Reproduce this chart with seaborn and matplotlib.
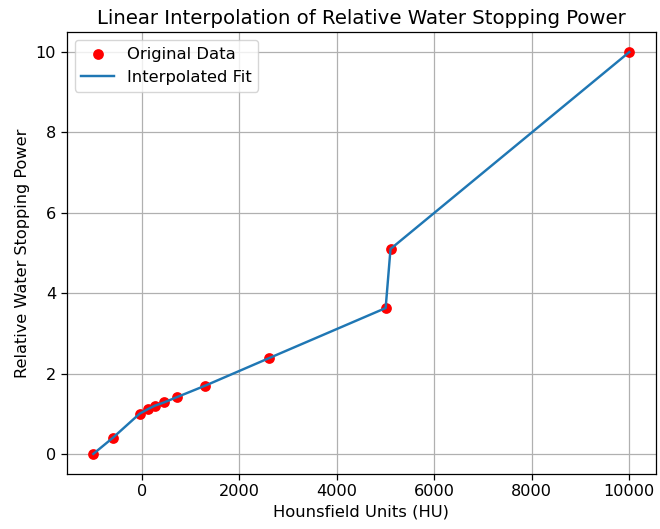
import matplotlib
matplotlib.use("Agg")
import matplotlib.pyplot as plt
import seaborn as sns
import pandas as pd

hu = [-1000, -600, -50, 130, 265, 450, 710, 1300, 2600, 5000, 5100, 10000]
rsp = [0.0, 0.40, 1.00, 1.12, 1.20, 1.28, 1.41, 1.70, 2.38, 3.63, 5.10, 10.0]

df = pd.DataFrame({"hu": hu, "rsp": rsp})

fig, ax = plt.subplots(figsize=(6.6, 5.29), dpi=100)
sns.scatterplot(data=df, x="hu", y="rsp", color="red", s=60, edgecolor=None,
                linewidth=0, label="Original Data", ax=ax, zorder=2)
sns.lineplot(data=df, x="hu", y="rsp", color="#1f77b4", label="Interpolated Fit",
             ax=ax, sort=True, estimator=None, zorder=3, linewidth=1.75)
ax.set_title("Linear Interpolation of Relative Water Stopping Power", fontsize=14.2)
ax.set_xlabel("Hounsfield Units (HU)", fontsize=11.8)
ax.set_ylabel("Relative Water Stopping Power", fontsize=11.6)
ax.grid(True, color="#b0b0b0", linewidth=0.9)
ax.set_axisbelow(True)
ax.legend(loc="upper left", fontsize=11.8)
ax.tick_params(labelsize=11.6, length=4, width=0.9)
for sp in ax.spines.values():
    sp.set_linewidth(0.9)
fig.subplots_adjust(left=0.1008, right=0.994, top=0.9395, bottom=0.104)
fig.savefig("out.png", dpi=100)
